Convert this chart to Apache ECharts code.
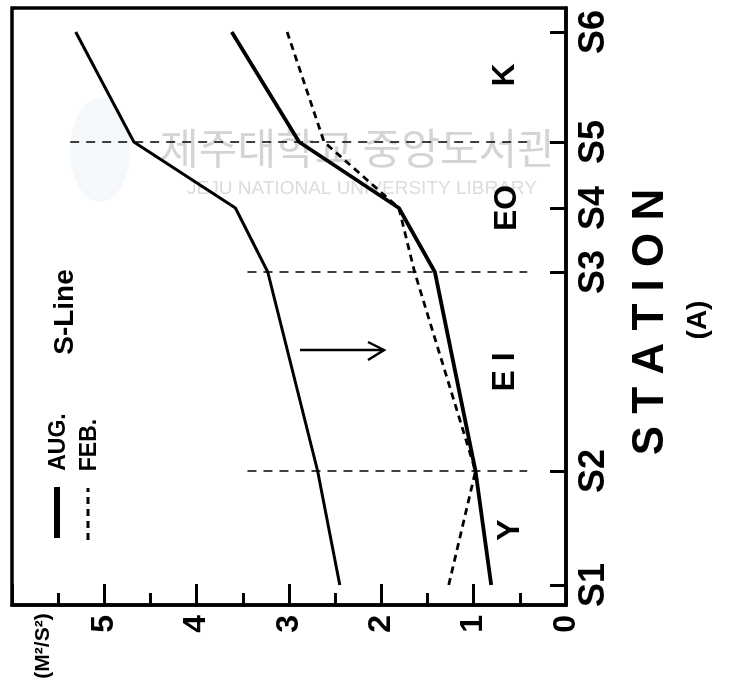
<!DOCTYPE html>
<html>
<head>
<meta charset="utf-8">
<script src="https://cdn.jsdelivr.net/npm/echarts@6/dist/echarts.min.js"></script>
<style>
html,body{margin:0;padding:0;background:#fff;}
#chart{width:729px;height:690px;}
</style>
</head>
<body>
<div id="chart"></div>
<script>
// ---- data ----
const stations = ['S1', 'S2', 'S3', 'S4', 'S5', 'S6'];
const stationPos = [0, 11.4, 31.3, 37.7, 44.3, 55.3];          // relative distance along S-Line
const augUpper = [2.45, 2.69, 3.23, 3.58, 4.68, 5.31];          // AUG. (M^2/S^2)
const augLower = [0.81, 0.98, 1.42, 1.81, 2.89, 3.62];          // AUG. (M^2/S^2)
const febLower = [1.27, 0.98, 1.64, 1.81, 2.62, 3.02];          // FEB. (M^2/S^2)
const dividerStations = ['S2', 'S3', 'S5'];
const dividerFrom = [3.45, 3.45, 5.37];
const dividerTo = [0.42, 0.42, 0.42];
const zoneLabels = ['Y', 'E I', 'EO', 'K'];

const FONT = '"Liberation Sans", Arial, sans-serif';
const posOf = s => stationPos[stations.indexOf(s)];
const pairs = vals => vals.map((v, i) => [v, stationPos[i]]);

const chart = echarts.init(document.getElementById('chart'));

function txt(text, x, y, size, rot, extra) {
  return {
    type: 'text', x: x, y: y, rotation: rot, z: 10,
    style: Object.assign({
      text: text, fill: '#000', fontSize: size, fontWeight: 'bold', fontFamily: FONT,
      align: 'center', verticalAlign: 'middle', textAlign: 'center', textVerticalAlign: 'middle'
    }, extra || {})
  };
}
const R = Math.PI / 2;

const dividerSeries = dividerStations.map((s, i) => ({
  type: 'line', name: 'div' + s, symbol: 'none', silent: true, z: 1,
  data: [[dividerFrom[i], posOf(s)], [dividerTo[i], posOf(s)]],
  lineStyle: { color: '#000', width: 1.6, type: [9, 7] }
}));

const option = {
  animation: false,
  backgroundColor: '#fff',
  grid: { left: 12, right: 163, top: 8, bottom: 85, show: true, borderColor: '#000', borderWidth: 3.5, backgroundColor: 'transparent' },
  xAxis: {
    type: 'value', inverse: true, min: 0, max: 6, interval: 1, position: 'bottom',
    axisLine: { show: true, onZero: false, lineStyle: { color: '#000', width: 3.5 } },
    axisTick: { show: true, inside: true, length: 21, lineStyle: { color: '#000', width: 3 } },
    minorTick: { show: true, splitNumber: 2, length: 12, lineStyle: { color: '#000', width: 3 } },
    splitLine: { show: false },
    axisLabel: {
      rotate: 90, margin: 10, color: '#000', fontSize: 32, fontWeight: 'bold', fontFamily: FONT,
      formatter: v => (v >= 6 ? '' : String(v))
    }
  },
  yAxis: {
    type: 'value', position: 'right', min: -2, max: 57.7,
    axisLine: { show: true, onZero: false, lineStyle: { color: '#000', width: 3.5 } },
    axisTick: { show: true, inside: true, length: 16, customValues: stationPos, lineStyle: { color: '#000', width: 3 } },
    splitLine: { show: false },
    axisLabel: {
      rotate: 90, margin: 10, color: '#000', fontSize: 36, fontWeight: 'bold', fontFamily: FONT,
      customValues: stationPos,
      formatter: v => {
        let best = 0;
        stationPos.forEach((p, i) => { if (Math.abs(p - v) < Math.abs(stationPos[best] - v)) best = i; });
        return stations[best];
      }
    }
  },
  graphic: [
    // faint watermark of the scanned source
    { type: 'ellipse', z: 0, shape: { cx: 100, cy: 150, rx: 30, ry: 52 }, style: { fill: 'rgba(170,200,225,0.12)' } },
    { type: 'text', x: 358, y: 148, z: 0, style: { text: '제주대학교 중앙도서관', fill: '#d4d4d4', fontSize: 42, fontFamily: '"Noto Sans CJK KR", sans-serif', align: 'center', verticalAlign: 'middle', textAlign: 'center', textVerticalAlign: 'middle' } },
    { type: 'text', x: 362, y: 189, z: 0, style: { text: 'JEJU NATIONAL UNIVERSITY LIBRARY', fill: '#dcdcdc', fontSize: 19, fontFamily: FONT, align: 'center', verticalAlign: 'middle', textAlign: 'center', textVerticalAlign: 'middle' } },
    // axis titles
    txt('S T A T I O N', 651, 322, 44, R),
    txt('(A)', 698, 320, 28, R),
    txt('(M²/S²)', 43, 646, 21, R),
    // zone labels
    txt(zoneLabels[0], 510, 530, 32, R),
    txt(zoneLabels[1], 505, 372, 32, R),
    txt(zoneLabels[2], 507, 208, 32, R),
    txt(zoneLabels[3], 505, 75, 32, R),
    // line name
    txt('S-Line', 65, 312, 28, R),
    // legend
    { type: 'line', z: 10, shape: { x1: 57, y1: 538, x2: 57, y2: 487 }, style: { stroke: '#000', lineWidth: 6 } },
    { type: 'line', z: 10, shape: { x1: 88, y1: 540, x2: 88, y2: 488 }, style: { stroke: '#000', lineWidth: 3, lineDash: [7, 5] } },
    txt('AUG.', 59, 442, 23, R),
    txt('FEB.', 90, 445, 23, R),
    // arrow
    { type: 'line', z: 10, shape: { x1: 300, y1: 350, x2: 384, y2: 350 }, style: { stroke: '#000', lineWidth: 2.5 } },
    { type: 'polyline', z: 10, shape: { points: [[368, 342], [384, 350], [368, 360]] }, style: { stroke: '#000', lineWidth: 2.5, fill: null } }
  ],
  series: [
    { type: 'line', name: 'AUG. upper', symbol: 'none', z: 3, data: pairs(augUpper), lineStyle: { color: '#000', width: 3 } },
    { type: 'line', name: 'AUG. lower', symbol: 'none', z: 3, data: pairs(augLower), lineStyle: { color: '#000', width: 3.8 } },
    { type: 'line', name: 'FEB.', symbol: 'none', z: 4, data: pairs(febLower), lineStyle: { color: '#000', width: 2.8, type: [7, 5] } }
  ].concat(dividerSeries)
};
chart.setOption(option);
</script>
</body>
</html>
